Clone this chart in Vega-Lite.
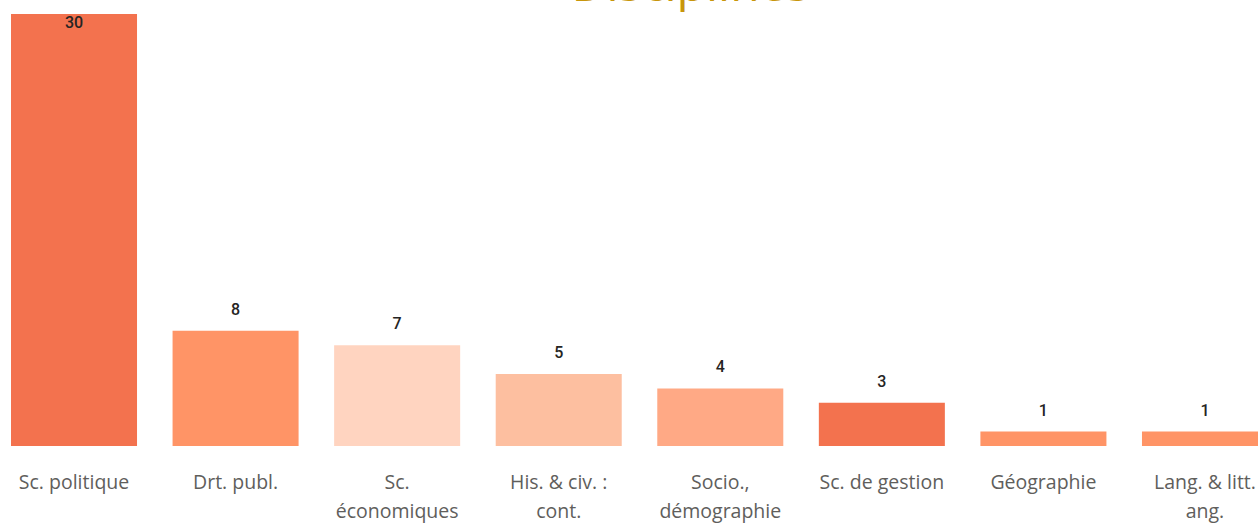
{
  "$schema": "https://vega.github.io/schema/vega-lite/v6.json",
  "autosize": {"type": "none"},
  "width": 1257,
  "height": 432,
  "padding": {"left": 11, "top": 14, "right": 0, "bottom": 78},
  "background": "white",
  "title": {
    "text": "Disciplines",
    "color": "#C8960C",
    "font": "Open Sans",
    "fontSize": 48,
    "fontWeight": "normal",
    "anchor": "middle",
    "dx": 51,
    "offset": -35,
    "baseline": "alphabetic"
  },
  "data": {
    "values": [
      {"discipline": "Sc. politique", "count": 30},
      {"discipline": "Drt. publ.", "count": 8},
      {"discipline": "Sc.|économiques", "count": 7},
      {"discipline": "His. & civ. :|cont.", "count": 5},
      {"discipline": "Socio.,|démographie", "count": 4},
      {"discipline": "Sc. de gestion", "count": 3},
      {"discipline": "Géographie", "count": 1},
      {"discipline": "Lang. & litt.|ang.", "count": 1}
    ]
  },
  "encoding": {
    "x": {
      "field": "discipline",
      "type": "nominal",
      "sort": null,
      "scale": {"paddingInner": 0.22, "paddingOuter": 0},
      "axis": {
        "title": null,
        "domain": false,
        "ticks": false,
        "labelAngle": 0,
        "labelFont": "Open Sans",
        "labelFontSize": 19.5,
        "labelColor": "#605E5C",
        "labelPadding": 27,
        "labelLineHeight": 29,
        "labelBaseline": "top",
        "labelExpr": "split(datum.label, '|')"
      }
    },
    "y": {
      "field": "count",
      "type": "quantitative",
      "scale": {"domain": [0, 30], "nice": false},
      "axis": null
    }
  },
  "layer": [
    {
      "mark": {"type": "bar", "cornerRadius": 0},
      "encoding": {
        "color": {
          "field": "discipline",
          "type": "nominal",
          "legend": null,
          "scale": {
            "domain": ["Sc. politique", "Drt. publ.", "Sc.|économiques", "His. & civ. :|cont.", "Socio.,|démographie", "Sc. de gestion", "Géographie", "Lang. & litt.|ang."],
            "range": ["#F3724E", "#FF9466", "#FFD4C0", "#FDBFA0", "#FFA985", "#F3724E", "#FF9466", "#FF9466"]
          }
        }
      }
    },
    {
      "transform": [{"filter": "datum.count < 30"}],
      "mark": {"type": "text", "baseline": "bottom", "dy": -13, "font": "Roboto", "fontSize": 16, "fontWeight": 500, "color": "#252423"},
      "encoding": {"text": {"field": "count", "type": "quantitative"}}
    },
    {
      "transform": [{"filter": "datum.count >= 30"}],
      "mark": {"type": "text", "baseline": "top", "dy": 1, "font": "Roboto", "fontSize": 16, "fontWeight": 500, "color": "#252423"},
      "encoding": {"text": {"field": "count", "type": "quantitative"}}
    }
  ],
  "config": {"view": {"stroke": null}}
}
